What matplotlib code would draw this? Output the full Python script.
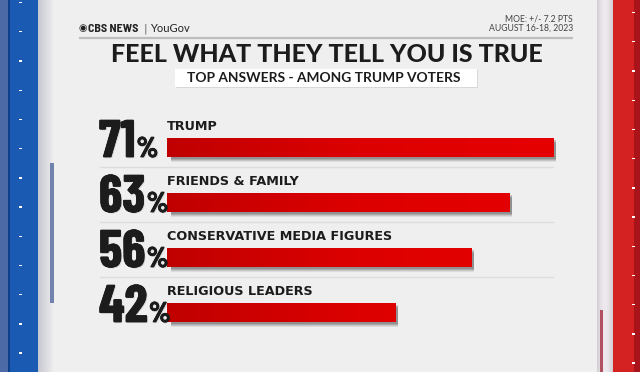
import numpy as np
import matplotlib
matplotlib.use("Agg")
import matplotlib.pyplot as plt
import matplotlib.patheffects as pe
from matplotlib.patches import Rectangle
from matplotlib.colors import LinearSegmentedColormap
from matplotlib.transforms import blended_transform_factory

# ---- data ----
categories = ["TRUMP", "FRIENDS & FAMILY", "CONSERVATIVE MEDIA FIGURES", "RELIGIOUS LEADERS"]
values = [71, 63, 56, 42]
title = "FEEL WHAT THEY TELL YOU IS TRUE"
subtitle = "TOP ANSWERS - AMONG TRUMP VOTERS"
moe_lines = ["MOE: +/- 7.2 PTS", "AUGUST 16-18, 2023"]

W, H = 640, 372
fig = plt.figure(figsize=(W / 100, H / 100), dpi=100)
fig.patch.set_facecolor("#efefef")

NUMFONT = ["Barlow Condensed", "DejaVu Sans"]
HEADFONT = ["Lato", "DejaVu Sans"]

# decoration axes in pixel coordinates
bg = fig.add_axes([0, 0, 1, 1])
bg.set_xlim(0, W)
bg.set_ylim(H, 0)
bg.axis("off")

def rect(x, y, w, h, **kw):
    bg.add_patch(Rectangle((x, y), w, h, **kw))

# left blue frame
rect(0, 0, 9, H, color="#4c6aa6", lw=0)
rect(8, 0, 1.5, H, color="#0e3f8a", lw=0)
rect(9.5, 0, 28.5, H, color="#1a5ab3", lw=0)
for i, c in enumerate(np.linspace(0, 1, 17)):
    col = (0.78 + 0.16 * c, 0.78 + 0.16 * c, 0.82 + 0.12 * c)
    rect(38 + i, 0, 1.05, H, color=col, lw=0)
rect(50, 163, 4, 140, color="#7183ad", lw=0)
for yy in np.arange(2, H, 29.2):
    rect(18.5, yy, 3, 1.3, color="white", lw=0)

# right red frame
for i, c in enumerate(np.linspace(0, 1, 16)):
    v = 0.83 + 0.1 * np.sin(np.pi * c)
    rect(597 + i, 0, 1.05, H, color=(v, v - 0.02, v), lw=0)
rect(599.5, 310, 3.5, 62, color="#b05060", lw=0)
rect(613, 0, 27, H, color="#d42222", lw=0)
rect(634, 0, 6, H, color="#a8141a", lw=0)
for yy in np.arange(12, H, 29.2):
    rect(631.5, yy, 3, 1.3, color="white", lw=0)

# header
bg.text(78.5, 28.5, "\u25c9", fontsize=7, color="#222222", va="center", ha="left",
        family="DejaVu Sans")
bg.text(87.5, 28.5, "CBS NEWS", fontsize=8.6, fontweight="bold", color="#222222",
        va="center", ha="left", family=["Barlow Semi Condensed", "DejaVu Sans"])
bg.text(145.5, 28.5, "|", fontsize=7.5, color="#666666", va="center", ha="center",
        family="DejaVu Sans")
bg.text(150, 28.5, "YouGov", fontsize=8, color="#222222", va="center", ha="left", family=HEADFONT)
bg.text(573, 19, moe_lines[0], fontsize=6.2, color="#444444", va="center", ha="right", family=HEADFONT)
bg.text(573, 28.5, moe_lines[1], fontsize=6.2, color="#444444", va="center", ha="right", family=HEADFONT)
bg.plot([79, 573], [37.7, 37.7], color="#bdbdbd", lw=1.6, solid_capstyle="butt")

bg.text(326.5, 54.5, title, fontsize=18, fontweight="black", color="#1c1c1c",
        va="center", ha="center", family=HEADFONT)
rect(176, 70, 302, 18, color="#d8d8d8", lw=0)
rect(175, 69, 302, 18, color="white", lw=0)
bg.text(324, 78.5, subtitle, fontsize=9.9, fontweight="bold", color="#1c1c1c",
        va="center", ha="center", family=HEADFONT)

# bar axes: x data 0 at px 167, 5.44 px per point; rows 55 px apart
px_per_unit = 5.44
row_px = 55.0
ax_left_px, ax_right_px = 167, 597
ax_top_px, ax_bot_px = 110, 340
ax = fig.add_axes([ax_left_px / W, 1 - ax_bot_px / H,
                   (ax_right_px - ax_left_px) / W, (ax_bot_px - ax_top_px) / H])
ax.set_facecolor("none")
top = (147.2 - ax_top_px) / row_px
xlim = (0, (ax_right_px - ax_left_px) / px_per_unit)
ylim = ((ax_bot_px - ax_top_px) / row_px - top, -top)
ax.axis("off")

ypos = np.arange(len(values))
bar_h = 19 / row_px

# separators
for i in range(len(values) - 1):
    yy = i + (166.7 - 147.2) / row_px
    ax.plot([(100 - 167) / px_per_unit, values[0]], [yy, yy], color="#dcdcdc", lw=1.0,
            clip_on=False)

# shadows
for dy, a in [(0.10, 0.08), (0.08, 0.10), (0.06, 0.13), (0.04, 0.15)]:
    ax.barh(ypos + dy, [v - 0.3 for v in values], left=0.8, height=bar_h, color="black",
            alpha=a, lw=0, zorder=1)

bars = ax.barh(ypos, values, height=bar_h, color="#dd0000", lw=0, zorder=2)
cmap = LinearSegmentedColormap.from_list("rg", ["#c00000", "#dd0000", "#e60000"])
grad = np.linspace(0, 1, 256).reshape(1, -1)
for b, v, y in zip(bars, values, ypos):
    im = ax.imshow(grad, cmap=cmap, aspect="auto", zorder=3,
                   extent=[0, max(values), y + bar_h / 2, y - bar_h / 2], interpolation="bilinear")
    im.set_clip_path(b)
ax.set_xlim(*xlim)
ax.set_ylim(*ylim)

# labels
for y, c in zip(ypos, categories):
    ax.text(0, y - (147.2 - 130) / row_px, c, fontsize=9.2, fontweight="bold", color="#1c1c1c",
            va="baseline", ha="left", family="DejaVu Sans")

# percentages
shadow = [pe.withSimplePatchShadow(offset=(0.8, -0.8), shadow_rgbFace="#000000", alpha=0.12),
          pe.Stroke(linewidth=0.6, foreground="#1c1c1c"), pe.Normal()]
tr = blended_transform_factory(bg.transData, ax.transData)
for y, v in zip(ypos, values):
    yb = y + (157 - 147.2) / row_px
    t = ax.text(99, yb, f"{v}", transform=tr, fontsize=38, fontweight="bold", fontstyle="normal",
                color="#1c1c1c", va="baseline", ha="left", family=NUMFONT, clip_on=False,
                path_effects=shadow)
    ax.annotate("%", xy=(1, yb), xycoords=(t, "data"), xytext=(0.8, 0), textcoords="offset points",
                fontsize=20.5, fontweight="bold", fontstyle="normal", color="#1c1c1c",
                va="baseline", ha="left", family=NUMFONT, annotation_clip=False,
                path_effects=shadow)

fig.savefig("out.png", dpi=100, facecolor=fig.get_facecolor())
